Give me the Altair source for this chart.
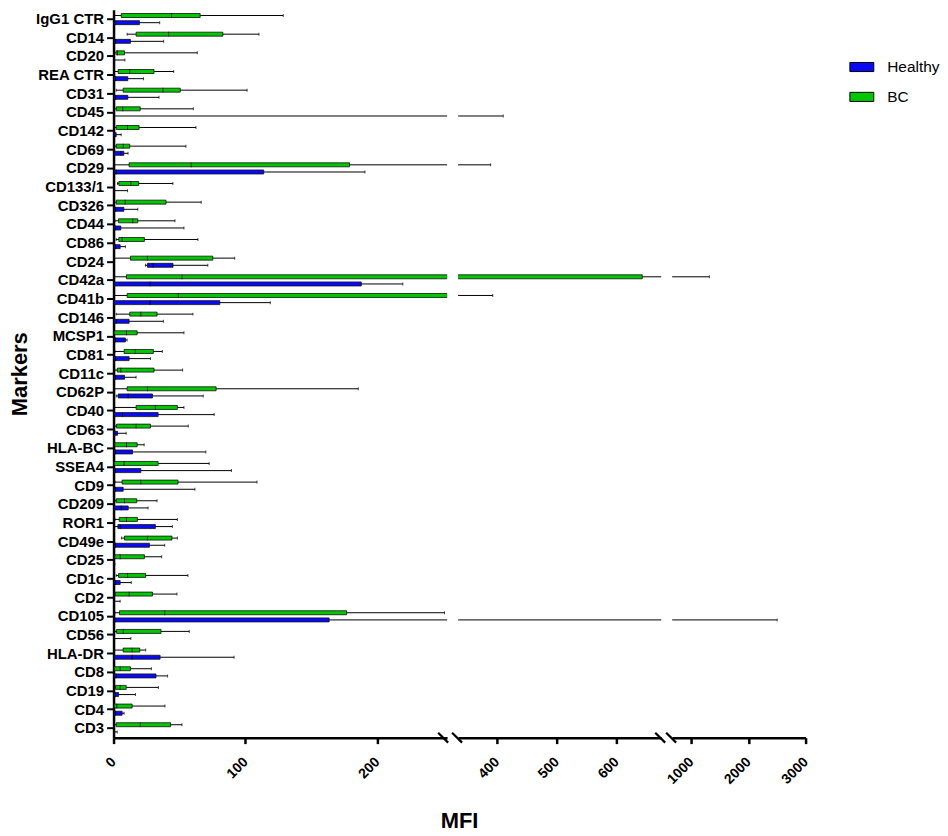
import altair as alt
import pandas as pd

markers = ["IgG1 CTR", "CD14", "CD20", "REA CTR", "CD31", "CD45", "CD142", "CD69", "CD29", "CD133/1",
           "CD326", "CD44", "CD86", "CD24", "CD42a", "CD41b", "CD146", "MCSP1", "CD81", "CD11c",
           "CD62P", "CD40", "CD63", "HLA-BC", "SSEA4", "CD9", "CD209", "ROR1", "CD49e", "CD25",
           "CD1c", "CD2", "CD105", "CD56", "HLA-DR", "CD8", "CD19", "CD4", "CD3"]

# BC (green) box statistics
bc_min = [0.5, 10.3, 0.5, 0.5, 2, 0.5, 0.5, 0.5, 0.5, 3,
          0.5, 1, 2, 0.5, 0.5, 0.5, 2, 0, 1, 1,
          0.5, 0.5, 1, 0.5, 0, 1, 1, 1, 6, 0.5,
          2, 0.5, 1, 1, 0.5, 0, 0.5, 0, 0.5]
bc_q1 = [5.8, 17.1, 2, 3.5, 7.3, 2, 2, 2, 11.8, 4,
         2, 3.8, 4, 12.8, 9.8, 10.3, 12.3, 0.5, 8, 2.8,
         10.3, 17.1, 2.3, 1, 0.5, 6.5, 2, 4.3, 8.3, 1,
         3.8, 1.3, 4.5, 2.3, 7.3, 0.5, 1.5, 0.5, 2]
bc_med = [44, 41.8, 3, 12.3, 37.5, 7, 10.6, 7.3, 58.9, 13.1,
          8.8, 14.6, 6.5, 25.7, 51.9, 49.1, 20.7, 9.8, 16.4, 5.5,
          25.7, 31.7, 17.1, 9.8, 8, 20.7, 8.3, 9.8, 25.7, 5,
          10.6, 11.8, 38.8, 7.3, 14.1, 5, 5, 2.5, 20.2]
bc_q3 = [65.7, 82.9, 8.3, 30.7, 50.6, 20.2, 19.4, 12.3, 179, 19.1,
         39.8, 18.4, 23.4, 75.3, 643, 300, 33, 17.9, 30.2, 30.7,
         77.8, 48.4, 28, 17.9, 33.8, 48.9, 17.6, 18.1, 44.3, 23.4,
         24.4, 29.5, 176.8, 36, 19.9, 12.8, 9.6, 14.1, 43.3]
bc_max = [128.7, 110.3, 63.5, 45.6, 101.3, 60.5, 62.5, 54.9, 389.5, 45,
          66.5, 46.6, 64, 91.9, 1316, 393, 60.2, 53.4, 37, 52.4,
          185.6, 53.4, 56.7, 23.2, 72.5, 108.8, 33, 48.4, 48.4, 36.5,
          56.4, 48.1, 251, 57.4, 24.4, 28.7, 34, 39, 51.9]

# Healthy (blue) box statistics
hl_min = [0, 0, 0, 0, 0, 0, 0, 0, 0, 0,
          0, 0, 0, 24.2, 0, 0, 0, 0, 0, 0,
          2, 0, 0, 0, 0, 0, 0, 0, 0, 0,
          0, 0, 0, 0, 0, 0, 0, 0, 0]
hl_q1 = [0.5, 0.5, 0.1, 0.5, 0.5, 0.1, 0.2, 0.5, 0.5, 0.1,
         0.5, 0.5, 0.5, 25.7, 0.5, 0.5, 0.5, 0.5, 0.5, 0.5,
         3.5, 0.5, 0.2, 0.5, 0.5, 0.5, 0.5, 3.3, 0.5, 0.1,
         0.5, 0.1, 0.5, 0.1, 0.5, 0.5, 0.5, 0.5, 0.1]
hl_med = [1, 1.5, 0.3, 1.5, 1.5, 0.3, 0.8, 5.5, 2, 0.3,
          1.5, 1.5, 1.5, 30, 27.7, 27.7, 2, 1.5, 1.5, 1.5,
          11.1, 6.8, 1, 1.5, 1.5, 1.5, 5.8, 5, 1.5, 0.2,
          1.5, 0.3, 1, 0.3, 14.1, 2, 1.5, 1.5, 0.3]
hl_q3 = [19.6, 12.8, 0.5, 10.8, 10.8, 0.6, 2, 7.8, 113.9, 0.6,
         7.8, 5.5, 5, 45.1, 187.9, 80.6, 11.8, 9, 11.8, 8.3,
         29.5, 33.8, 3, 14.4, 20.7, 7.3, 11.1, 31.7, 27.2, 0.4,
         5, 0.6, 163.5, 0.6, 35.3, 32.2, 3.8, 6.5, 0.6]
hl_max = [35, 38, 8.6, 22.7, 34.5, 410.5, 5.8, 11, 190.7, 10.6,
          18.4, 53.4, 9, 71.5, 219.4, 118.9, 37.8, 10.3, 28, 17.1,
          68, 76.3, 9.6, 70, 89.4, 61.7, 26.2, 44.6, 38.8, 1,
          13.4, 5, 2503, 13.1, 91.4, 41, 16.6, 8, 2.8]

groups = ["Healthy", "BC"]
tick_sets = [[0, 100, 200], [400, 500, 600], [1000, 2000, 3000]]
domains = [[0, 253], [335, 674.7], [665, 3000]]

rows = []
for i, m in enumerate(markers):
    rows.append({"marker": m, "group": "BC", "lo": bc_min[i], "q1": bc_q1[i],
                 "med": bc_med[i], "q3": bc_q3[i], "hi": bc_max[i]})
    rows.append({"marker": m, "group": "Healthy", "lo": hl_min[i], "q1": hl_q1[i],
                 "med": hl_med[i], "q3": hl_q3[i], "hi": hl_max[i]})
df = pd.DataFrame(rows)
deco = pd.DataFrame({"k": [0]})

FONT = "Liberation Sans"
GREEN = "#00c800"
BLUE = "#0a0af5"
H = 731
OFFS = {"BC": -3.6, "Healthy": 3.6}

cscale = alt.Scale(domain=groups, range=[BLUE, GREEN])
legend = alt.Legend(title=None, orient="none", legendX=739, legendY=45,
                    symbolType="M-1,-0.38H1V0.38H-1Z", symbolSize=576,
                    symbolStrokeColor="black", symbolStrokeWidth=1, symbolOpacity=1,
                    labelFont=FONT, labelFontSize=15.5, labelColor="black",
                    labelOffset=13, rowPadding=9, padding=0)
yscale = alt.Scale(domain=markers, paddingInner=0, paddingOuter=0)


def panel(idx, width, slashes):
    first = idx == 0
    xs = alt.Scale(domain=domains[idx], nice=False, zero=False)
    common = dict(values=tick_sets[idx], format="d", labelAngle=-45, labelAlign="right",
                  labelBaseline="middle", labelFont=FONT, labelFontSize=14,
                  labelFontWeight="bold", labelColor="black", labelPadding=16,
                  labelFlush=False, labelOverlap=False, tickSize=6, tickWidth=2.5,
                  tickColor="black", domainWidth=2.5, domainColor="black", grid=False)
    if first:
        xax = alt.Axis(title="MFI", titleFont=FONT, titleFontSize=22, titleFontWeight="bold",
                       titleColor="black", titleX=347, titleY=90, titleAlign="center",
                       titleBaseline="alphabetic", **common)
        yax = alt.Axis(title="Markers", titleFont=FONT, titleFontSize=22, titleFontWeight="bold",
                       titleColor="black", titlePadding=4, labelFont=FONT, labelFontSize=15,
                       labelFontWeight="bold", labelColor="black", labelPadding=3,
                       tickSize=7, tickWidth=2, tickColor="black", domainWidth=2.5,
                       domainColor="black", grid=False)
    else:
        xax = alt.Axis(title=None, **common)
        yax = None

    def Y():
        return alt.Y("marker:N", scale=yscale, axis=yax)

    layers = []
    for g in ["BC", "Healthy"]:
        off = OFFS[g]
        base = alt.Chart(df).transform_filter(alt.datum.group == g)
        layers.append(base.mark_rule(color="black", strokeWidth=1, yOffset=off, clip=True)
                      .encode(x=alt.X("lo:Q", scale=xs, axis=xax), x2="hi:Q", y=Y()))
        layers.append(base.mark_tick(color="black", size=3, thickness=1, yOffset=off, clip=True)
                      .encode(x=alt.X("hi:Q", scale=xs, axis=xax), y=Y()))
        layers.append(base.mark_tick(color="black", size=3, thickness=1, yOffset=off, clip=True)
                      .encode(x=alt.X("lo:Q", scale=xs, axis=xax), y=Y()))
        if first:
            color = alt.Color("group:N", scale=cscale, legend=legend)
        else:
            color = alt.value(GREEN if g == "BC" else BLUE)
        layers.append(base.mark_bar(size=4, yOffset=off, stroke="#111111", strokeWidth=0.8,
                                    clip=True, opacity=1)
                      .encode(x=alt.X("q1:Q", scale=xs, axis=xax), x2="q3:Q", y=Y(), color=color))
        layers.append(base.mark_tick(color="black", size=4.8, thickness=1, yOffset=off, clip=True)
                      .encode(x=alt.X("med:Q", scale=xs, axis=xax), y=Y()))
    for cx in slashes:
        layers.append(alt.Chart(deco).mark_rule(color="black", strokeWidth=2.2, clip=False)
                      .encode(x=alt.value(cx - 5), x2=alt.value(cx + 5),
                              y=alt.value(H - 5), y2=alt.value(H + 5)))
    return alt.layer(*layers).properties(width=width, height=H)


p1 = panel(0, 335, [331])
p2 = panel(1, 204, [-1, 203])
p3 = panel(2, 134, [-1])

chart = (alt.hconcat(p1, p2, p3, spacing=11, bounds="flush")
         .resolve_scale(x="independent")
         .properties(padding=0)
         .configure(font=FONT)
         .configure_view(strokeWidth=0, strokeOpacity=0))

chart.save("out.html", embed_options={"renderer": "svg", "actions": False})
